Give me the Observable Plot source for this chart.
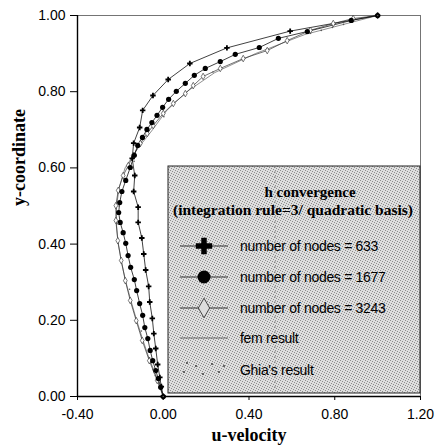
<!DOCTYPE html>
<html>
<head>
<meta charset="utf-8">
<script src="https://cdn.jsdelivr.net/npm/d3@7"></script>
<script src="https://cdn.jsdelivr.net/npm/@observablehq/plot@0.6"></script>
<style>
  body { margin: 0; background: #fff; }
</style>
</head>
<body>
<div id="chart"></div>
<script>
// ---- data ----
const xTicks = [-0.4, 0, 0.4, 0.8, 1.2];
const yTicks = [0, 0.2, 0.4, 0.6, 0.8, 1.0];

// number of nodes = 633 (plus markers)
const y633 = [0, 0.026, 0.050, 0.084, 0.126, 0.165, 0.205, 0.248, 0.289, 0.332, 0.374, 0.416, 0.457, 0.497, 0.538, 0.580, 0.625, 0.665, 0.706, 0.751, 0.790, 0.832, 0.874, 0.915, 0.959, 1.0];
const u633 = [0, -0.009, -0.016, -0.026, -0.035, -0.044, -0.051, -0.063, -0.068, -0.082, -0.091, -0.100, -0.117, -0.117, -0.138, -0.133, -0.145, -0.138, -0.110, -0.096, -0.048, 0.023, 0.124, 0.297, 0.592, 1.0];

// number of nodes = 1677 (filled circles)
const y1677 = [0, 0.024, 0.047, 0.068, 0.094, 0.121, 0.152, 0.181, 0.213, 0.244, 0.278, 0.307, 0.339, 0.370, 0.402, 0.430, 0.457, 0.483, 0.509, 0.538, 0.567, 0.601, 0.633, 0.659, 0.680, 0.701, 0.719, 0.738, 0.759, 0.780, 0.801, 0.822, 0.843, 0.861, 0.879, 0.898, 0.916, 0.940, 0.958, 0.987, 1.0];
const u1677 = [0, -0.012, -0.023, -0.035, -0.049, -0.061, -0.072, -0.086, -0.096, -0.110, -0.124, -0.135, -0.152, -0.164, -0.175, -0.187, -0.201, -0.208, -0.203, -0.193, -0.175, -0.154, -0.135, -0.119, -0.097, -0.076, -0.053, -0.029, -0.003, 0.025, 0.061, 0.103, 0.145, 0.196, 0.266, 0.336, 0.448, 0.537, 0.672, 0.877, 1.0];

// number of nodes = 3243 (open diamonds)
const y3243 = [0, 0.042, 0.094, 0.147, 0.199, 0.252, 0.304, 0.357, 0.409, 0.462, 0.501, 0.541, 0.580, 0.606, 0.633, 0.664, 0.690, 0.711, 0.743, 0.769, 0.795, 0.816, 0.840, 0.861, 0.887, 0.908, 0.934, 0.961, 0.979, 0.992, 1.0];
const u3243 = [0, -0.028, -0.065, -0.098, -0.126, -0.154, -0.177, -0.196, -0.212, -0.221, -0.221, -0.210, -0.187, -0.163, -0.140, -0.107, -0.075, -0.047, 0.000, 0.047, 0.103, 0.140, 0.186, 0.266, 0.373, 0.485, 0.578, 0.686, 0.793, 0.886, 1.0];

// fem result (thin line)
const yFem = [0, 0.05, 0.1, 0.15, 0.2, 0.25, 0.3, 0.35, 0.4, 0.45, 0.5, 0.55, 0.6, 0.65, 0.7, 0.75, 0.8, 0.85, 0.9, 0.95, 1.0];
const uFem = [0, -0.03, -0.066, -0.096, -0.124, -0.15, -0.174, -0.194, -0.21, -0.218, -0.218, -0.205, -0.178, -0.12, -0.05, 0.015, 0.11, 0.24, 0.43, 0.66, 1.0];

// Ghia's result (dots)
const yGhia = [0, 0.0547, 0.0625, 0.0703, 0.1016, 0.1719, 0.2813, 0.4531, 0.5, 0.6172, 0.7344, 0.8516, 0.9531, 0.9609, 0.9688, 0.9766, 1.0];
const uGhia = [0, -0.037, -0.042, -0.048, -0.064, -0.102, -0.157, -0.211, -0.206, -0.136, 0.003, 0.232, 0.687, 0.737, 0.789, 0.841, 1.0];

const legendTitle = ["h convergence", "(integration rule=3/ quadratic basis)"];
const legendLabels = ["number of nodes = 633", "number of nodes = 1677", "number of nodes = 3243", "fem result", "Ghia's result"];

const toRows = (ys, us) => ys.map((y, i) => ({y, u: us[i]}));
const s633 = toRows(y633, u633);
const s1677 = toRows(y1677, u1677);
const s3243 = toRows(y3243, u3243);
const sFem = toRows(yFem, uFem);
const sGhia = toRows(yGhia, uGhia);

const fmt = d => d.toFixed(2);
const sans = "'Liberation Sans', Arial, sans-serif";
const serif = "'Liberation Serif', 'Times New Roman', serif";

const plot = Plot.plot({
  width: 436,
  height: 445,
  marginLeft: 77,
  marginRight: 16,
  marginTop: 15,
  marginBottom: 49,
  style: {fontFamily: sans, fontSize: "14px", background: "#fff", color: "#000"},
  x: {domain: [-0.4, 1.2], label: null},
  y: {domain: [0, 1], label: null},
  marks: [
    Plot.frame({stroke: "#666", strokeWidth: 0.9}),
    Plot.axisX({ticks: xTicks, tickFormat: fmt, tickSize: 4, tickPadding: 9, label: null, fontSize: 14}),
    Plot.axisY({ticks: yTicks, tickFormat: fmt, tickSize: 7, tickPadding: 5, label: null, fontSize: 14}),
    Plot.ruleX([-0.4], {stroke: "#000", strokeWidth: 1.4}),
    Plot.ruleY([0], {stroke: "#000", strokeWidth: 1.4}),
    Plot.line(sFem, {x: "u", y: "y", stroke: "#444", strokeWidth: 0.6}),
    Plot.line(s3243, {x: "u", y: "y", stroke: "#333", strokeWidth: 0.7}),
    Plot.line(s1677, {x: "u", y: "y", stroke: "#111", strokeWidth: 0.8}),
    Plot.line(s633, {x: "u", y: "y", stroke: "#111", strokeWidth: 0.8}),
    Plot.dot(s3243, {x: "u", y: "y", symbol: "diamond", r: 2, stroke: "#222", strokeWidth: 0.6, fill: "#fff"}),
    Plot.dot(s1677, {x: "u", y: "y", symbol: "circle", r: 2.6, fill: "#000", stroke: "none"}),
    Plot.dot(s633, {x: "u", y: "y", symbol: "cross", r: 2.3, fill: "#000", stroke: "none"}),
    Plot.dot(sGhia, {x: "u", y: "y", r: 0.8, fill: "#555", stroke: "none"}),
    Plot.text(["u-velocity"], {frameAnchor: "bottom", lineAnchor: "bottom", dy: 44, fontFamily: serif, fontWeight: "bold", fontSize: 18}),
    Plot.text(["y-coordinate"], {frameAnchor: "left", rotate: -90, dx: -58, fontFamily: serif, fontWeight: "bold", fontSize: 18})
  ]
});

document.getElementById("chart").appendChild(plot);

// ---- legend box (stippled) drawn inside the plot's svg ----
const svg = d3.select(plot);
const defs = svg.append("defs");
const pat = defs.append("pattern").attr("id", "stipple").attr("patternUnits", "userSpaceOnUse")
  .attr("width", 5).attr("height", 5);
pat.append("rect").attr("width", 5).attr("height", 5).attr("fill", "#dedede");
[[0,0],[2,1],[4,2],[1,3],[3,4]].forEach(([px, py]) =>
  pat.append("rect").attr("x", px).attr("y", py).attr("width", 1).attr("height", 1).attr("fill", "#8c8c8c"));

const lg = svg.append("g").attr("text-anchor", "start");
const box = {x: 168, y: 166, w: 252, h: 227};
lg.append("rect").attr("x", box.x).attr("y", box.y).attr("width", box.w).attr("height", box.h)
  .attr("fill", "url(#stipple)").attr("stroke", "#222").attr("stroke-width", 1);
lg.append("line").attr("x1", 275).attr("x2", 275).attr("y1", box.y).attr("y2", box.y + box.h)
  .attr("stroke", "#666").attr("stroke-width", 0.6).attr("stroke-dasharray", "2,3");

lg.append("text").attr("x", 310).attr("y", 197).attr("text-anchor", "middle")
  .attr("font-family", serif).attr("font-weight", "bold").attr("font-size", 15).text(legendTitle[0]);
lg.append("text").attr("x", 293).attr("y", 215).attr("text-anchor", "middle")
  .attr("font-family", serif).attr("font-weight", "bold").attr("font-size", 15.5).text(legendTitle[1]);

const rowsY = [246, 277, 308, 338, 370];
const sx0 = 180, sx1 = 228, sc = 204;
legendLabels.forEach((lab, i) => {
  const cy = rowsY[i];
  if (i < 4) {
    lg.append("line").attr("x1", sx0).attr("x2", sx1).attr("y1", cy).attr("y2", cy)
      .attr("stroke", "#222").attr("stroke-width", i === 3 ? 0.6 : 0.9);
  }
  if (i === 0) {
    lg.append("path").attr("transform", `translate(${sc},${cy})`)
      .attr("d", d3.symbol(d3.symbolCross, 150)()).attr("fill", "#000");
  } else if (i === 1) {
    lg.append("circle").attr("cx", sc).attr("cy", cy).attr("r", 6.5).attr("fill", "#000");
  } else if (i === 2) {
    lg.append("path").attr("transform", `translate(${sc},${cy})`)
      .attr("d", d3.symbol(d3.symbolDiamond, 110)()).attr("fill", "#ddd").attr("stroke", "#222").attr("stroke-width", 0.8);
  } else if (i === 4) {
    [[187, 363], [184, 372], [196, 366], [203, 374], [212, 364], [219, 372], [224, 366]].forEach(([dx, dy]) =>
      lg.append("circle").attr("cx", dx).attr("cy", dy).attr("r", 0.9).attr("fill", "#333"));
  }
  lg.append("text").attr("x", 240).attr("y", cy + 5).attr("text-anchor", "start")
    .attr("font-family", sans).attr("font-size", 14)
    .attr("letter-spacing", -0.3).attr("fill", "#000").text(lab);
});
</script>
</body>
</html>
